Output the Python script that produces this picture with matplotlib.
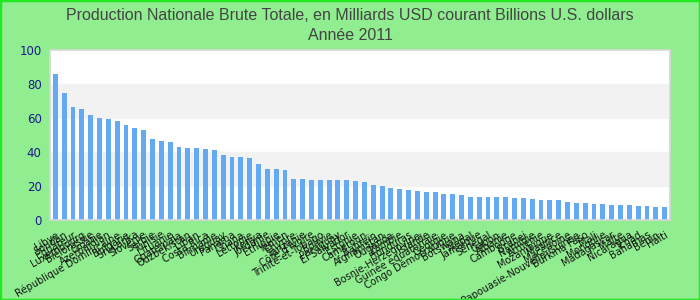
import numpy as np
import matplotlib
matplotlib.use("Agg")
import matplotlib.pyplot as plt
from matplotlib.patches import Rectangle

# GNI 2011, billions of current USD
pays = ["Libye", "Soudan", "Equateur", "Luxembourg", "Biélorussie", "Croatie",
        "Azerbaïdjan", "République Dominicaine", "Bulgarie", "Sri Lanka",
        "Slovénie", "Serbie", "Tunisie", "Lituanie", "Guatemala", "Ouzbékistan",
        "Liban", "Costa Rica", "Birmanie", "Uruguay", "Panama", "Ghana",
        "Lettonie", "Kenya", "Jordanie", "Ethiopie", "Yémen", "Chypre",
        "Tanzanie", "Côte d'Ivoire", "Trinité-et-Tobago", "Bolivie", "Paraguay",
        "El Salvador", "Estonie", "Cameroun", "Bahreïn", "Afghanistan",
        "Ouganda", "Zambie", "Honduras", "Bosnie-Herzégovine", "Islande",
        "Guinée équatoriale", "Géorgie", "Congo Démocratique", "Botswana",
        "Népal", "Jamaïque", "Sénégal", "Gabon", "Albanie", "Cambodge",
        "Brunei", "Namibie", "Arménie", "Mozambique", "Maurice", "Macédoine",
        "Papouasie-Nouvelle-Guinée", "Burkina Faso", "Mali", "Mongolie",
        "Madagascar", "Malte", "Nicaragua", "Tchad", "Bahamas", "Bénin", "Haïti"]
valeurs = [85.8, 74.6, 66.3, 65.1, 61.5, 59.8, 59.2, 58.0, 55.6, 54.4,
           52.7, 47.9, 46.2, 45.6, 43.2, 42.6, 42.6, 42.0, 41.4, 38.5,
           37.3, 37.3, 36.7, 33.1, 30.2, 30.2, 29.6, 24.3, 24.3, 23.7,
           23.7, 23.7, 23.7, 23.7, 23.1, 22.5, 20.7, 20.1, 18.9, 18.3,
           17.8, 17.2, 16.6, 16.6, 15.4, 15.4, 14.8, 13.6, 13.6, 13.6,
           13.6, 13.6, 13.0, 13.0, 12.4, 11.8, 11.8, 11.8, 10.7, 10.1,
           10.1, 9.5, 9.5, 8.9, 8.9, 8.9, 8.3, 8.3, 7.7, 7.7]
titre = "Production Nationale Brute Totale, en Milliards USD courant Billions U.S. dollars\nAnnée 2011"

fig = plt.figure(figsize=(7, 3), dpi=100, facecolor="#90ee90")
fig.patches.append(Rectangle((0, 0), 1, 1, transform=fig.transFigure, fill=False,
                             edgecolor="#22e822", linewidth=2.5, zorder=10))
ax = fig.add_axes([50/700, 1 - 220/300, 620/700, 170/300])
ax.set_facecolor("white")

x = np.arange(len(pays))
ax.axhspan(20, 40, color="#f2f2f2", zorder=0)
ax.axhspan(60, 80, color="#f2f2f2", zorder=0)
ax.bar(x, valeurs, width=0.55, color="#64aaf2", zorder=2)

ax.set_xlim(-0.6, len(pays) - 0.4)
ax.set_ylim(0, 100)
ax.set_yticks(range(0, 101, 20))
ax.tick_params(axis="y", length=0, labelsize=8.5, labelcolor="#1a1a8c", pad=6)
ax.set_xticks(x)
ax.set_xticklabels(pays, rotation=30, ha="right", rotation_mode="anchor",
                   fontsize=7, color="#111111")
ax.tick_params(axis="x", length=0, pad=7)
for s in ax.spines.values():
    s.set_color("#d6d6d6")
    s.set_linewidth(1.2)

fig.text(0.5, 0.975, titre, ha="center", va="top", fontsize=11.5,
         family=["Liberation Sans", "DejaVu Sans"], color="#444444",
         linespacing=1.5)

fig.savefig("out.png", dpi=100, facecolor=fig.get_facecolor())
